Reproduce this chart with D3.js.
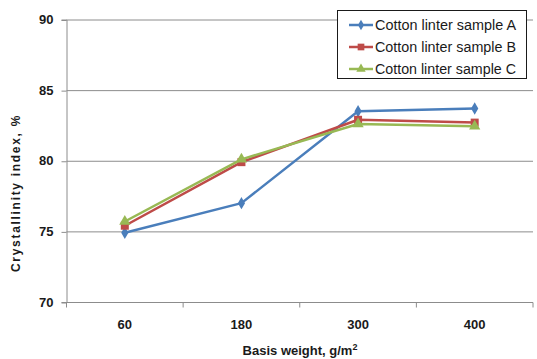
<!DOCTYPE html>
<html>
<head>
<meta charset="utf-8">
<script src="https://cdn.jsdelivr.net/npm/d3@7"></script>
<style>
  html, body { margin: 0; padding: 0; background: #fff; }
  svg { display: block; }
  text { font-family: "Liberation Sans", Arial, sans-serif; }
</style>
</head>
<body>
<svg id="chart" width="537" height="359"></svg>
<script>
const categories = ["60", "180", "300", "400"];
const seriesNames = ["Cotton linter sample A", "Cotton linter sample B", "Cotton linter sample C"];
const sampleA = [74.9, 77.0, 83.5, 83.7];
const sampleB = [75.4, 79.9, 82.9, 82.7];
const sampleC = [75.7, 80.1, 82.6, 82.45];
const yTicks = [70, 75, 80, 85, 90];

const colors = ["#4a7ebb", "#be4b48", "#98b954"];
const symbols = [d3.symbolDiamond, d3.symbolSquare, d3.symbolTriangle];
const symbolSizes = [45, 64, 55];
const series = [sampleA, sampleB, sampleC];

const svg = d3.select("#chart");
const plotLeft = 66.5, plotRight = 533, plotTop = 19.5, plotBottom = 302;

const x = d3.scaleBand().domain(categories).range([plotLeft, plotRight]);
const y = d3.scaleLinear().domain([70, 90]).range([plotBottom, plotTop]);

// horizontal gridlines
svg.append("g").selectAll("line").data(yTicks).join("line")
  .attr("x1", plotLeft).attr("x2", plotRight)
  .attr("y1", d => y(d) + 0.5).attr("y2", d => y(d) + 0.5)
  .attr("stroke", "#8c8c8c").attr("stroke-width", 1);

// y axis
const yAxis = svg.append("g").attr("transform", `translate(${plotLeft},0)`)
  .call(d3.axisLeft(y).tickValues(yTicks).tickSize(5).tickPadding(8));
yAxis.select(".domain").attr("stroke", "#8c8c8c");
yAxis.selectAll(".tick line").attr("stroke", "#8c8c8c").attr("transform", "translate(0,0.5)");
yAxis.selectAll(".tick text").attr("font-size", 13).attr("font-weight", "bold")
  .attr("fill", "#1a1a1a").attr("font-family", "Liberation Sans, Arial, sans-serif");

// x axis with ticks at category boundaries
const xAxis = svg.append("g").attr("transform", `translate(0,${plotBottom + 0.5})`);
xAxis.append("line").attr("x1", plotLeft).attr("x2", plotRight).attr("stroke", "#8c8c8c");
const bounds = categories.map(c => x(c)).concat([x.range()[1]]);
xAxis.selectAll("line.tk").data(bounds).join("line").attr("class", "tk")
  .attr("x1", d => d).attr("x2", d => d).attr("y1", 0).attr("y2", 5)
  .attr("stroke", "#8c8c8c");
xAxis.selectAll("text").data(categories).join("text")
  .attr("x", d => x(d) + x.bandwidth() / 2).attr("y", 26)
  .attr("text-anchor", "middle").attr("font-size", 13).attr("font-weight", "bold")
  .attr("fill", "#1a1a1a").text(d => d);

// axis titles
svg.append("text")
  .attr("transform", "translate(20,193) rotate(-90)")
  .attr("text-anchor", "middle").attr("font-size", 12).attr("font-weight", "bold")
  .attr("letter-spacing", 1.7).attr("fill", "#1a1a1a")
  .text("Crystallinity index, %");

const xt = svg.append("text").attr("x", 300).attr("y", 355)
  .attr("text-anchor", "middle").attr("font-size", 13).attr("font-weight", "bold")
  .attr("fill", "#1a1a1a");
xt.append("tspan").text("Basis weight, g/m");
xt.append("tspan").attr("dy", -5).attr("font-size", 9).text("2");

// series lines and markers
const line = d3.line()
  .x((d, i) => x(categories[i]) + x.bandwidth() / 2)
  .y(d => y(d));

series.forEach((vals, s) => {
  svg.append("path").datum(vals)
    .attr("d", line).attr("fill", "none")
    .attr("stroke", colors[s]).attr("stroke-width", 2.5)
    .attr("stroke-linejoin", "round");
  svg.append("g").selectAll("path").data(vals).join("path")
    .attr("transform", (d, i) => `translate(${x(categories[i]) + x.bandwidth() / 2},${y(d)})`)
    .attr("d", d3.symbol().type(symbols[s]).size(symbolSizes[s]))
    .attr("fill", colors[s]);
});

// legend
const lg = svg.append("g");
lg.append("rect").attr("x", 337.5).attr("y", 10.5).attr("width", 189).attr("height", 68)
  .attr("fill", "#fff").attr("stroke", "#1a1a1a").attr("stroke-width", 1);
seriesNames.forEach((name, s) => {
  const cy = 25 + s * 22;
  lg.append("line").attr("x1", 349).attr("x2", 373).attr("y1", cy).attr("y2", cy)
    .attr("stroke", colors[s]).attr("stroke-width", 2.5);
  lg.append("path").attr("transform", `translate(361,${cy})`)
    .attr("d", d3.symbol().type(symbols[s]).size(symbolSizes[s] * 0.7))
    .attr("fill", colors[s]);
  lg.append("text").attr("x", 375).attr("y", cy + 5)
    .attr("font-size", 14).attr("fill", "#1a1a1a")
    .attr("font-family", "Noto Sans, Arial, sans-serif")
    .attr("textLength", 141).attr("lengthAdjust", "spacingAndGlyphs")
    .text(name);
});
</script>
</body>
</html>
